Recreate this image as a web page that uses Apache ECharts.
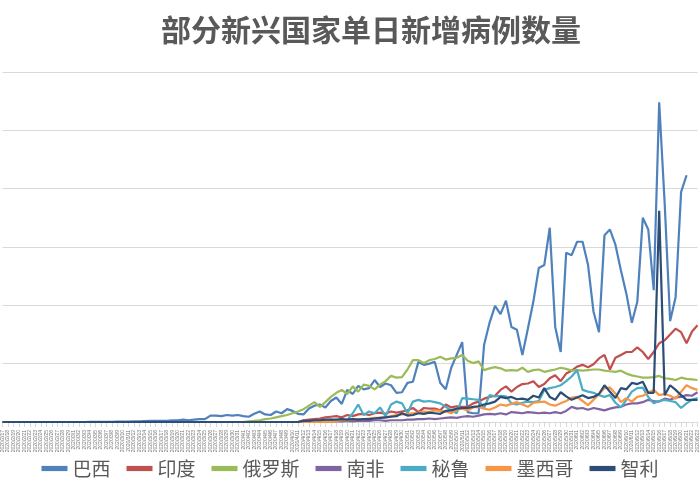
<!DOCTYPE html>
<html><head><meta charset="utf-8">
<script src="https://cdn.jsdelivr.net/npm/echarts@6/dist/echarts.min.js"></script>
<style>html,body{margin:0;padding:0;background:#fff}#c{width:700px;height:500px}</style>
</head><body><div id="c"></div>
<script>
// values in thousands of daily new cases, day 0 = 2020/2/17
const startDate = [2020, 2, 17];
const dayCount = 128;
const z = n => Array(n).fill(0);
const brazil = [].concat(z(13),[0,0,0,0.01,0.01,0.02,0.02,0.03,0.05,0.05,0.06,0.1,0.1,0.15,0.2,0.2,0.2,0.2,0.3,0.3,0.4,0.3,0.4,0.5,0.5],
 [1.1,1.1,1.0,1.2,1.1,1.2,1.0,0.9,1.4,1.8,1.3,1.2,1.8,1.5,2.2,1.9,1.4,1.3,2.3,2.8,3.0,2.5,3.6,4.2,3.1,5.5,4.8,6.2,5.6,5.8,7.2,6.0,6.6],
 [6.3,5.0,5.1,6.7,6.9,10.3,9.8,10.0,10.3,6.7,5.6,9.3,11.5,13.7,1.7,1.5,1.5,13.2,17,19.9,18.5,20.8,16.3,15.8,11.5,16,20.6,26.4,26.9,33.3,16.3,12,29,28.6,30.9,30.9,26.9,18.9,15.4,32,33,30.4,26,22,17,20.6,35,33,22.6,54.8,37.5,17.3,21.4,39.4,42.3]);
const india = [].concat(z(55),[0.3,0.4,0.5,0.6,0.8,0.9,1.0,0.8,1.2,1.0,1.3,1.4,1.2,1.5,1.6,1.4,1.8,1.6],
 [1.8,2.0,2.4,1.7,2.4,2.3,2.3,2.0,3.0,2.5,2.7,2.6,2.6,3.2],
 [3.5,4.0,4.3,4.5,5.5,6.1,5.2,6.0,6.5,6.6,7.0,6.0,6.5,7.5,8.0,7.0,8.3,8.8,9.5,9.8,9.4,9.9,10.9,11.5,9.0,11.0,11.5,12.0,12.0,12.8,12.0,10.8,12.0,13.5,14.0,15.0,16.0,15.4,13.5,15.5,16.6]);
const russia = [].concat(z(45),[0.1,0.2,0.3,0.5,0.6,0.8,1.0,1.2,1.5,1.8,2.2,2.8,3.4,2.6,3.4,4.3,5.0,5.5,4.8,6.1,5.2,6.4,6.2,5.6,6.4,7.0,7.9,7.6],
 [7.7,9.0,10.6,10.6,10.1,10.6,10.8,11.2,10.7,10.9,11.0,11.5,10.5,10.1,10.4,8.9,9.2,9.4,9.2,8.8,8.9,8.8,9.3,8.6,8.9,9.0,8.6,8.8,9.0,9.3,9.1,8.8,8.9,8.8,8.9,9.0,9.0,8.8,8.7,8.6,8.8,8.3,8.0,7.8,7.6,7.6,7.7,7.9,7.5,7.4,7.2,7.6,7.4,7.3,7.2]);
const southAfrica = [].concat(z(60),[0.1,0.1,0.1,0.2,0.1,0.2,0.2,0.2,0.3,0.3,0.2,0.3,0.3],
 [0.3,0.4,0.4,0.5,0.5,0.6,0.5,0.6,0.7,0.8,0.7,0.9,1.0,0.9,1.1,1.3,1.4,1.3,1.5,1.3,1.7,1.6,1.5,1.7,1.6,1.5,1.6,1.5,1.7,1.5,1.9,2.6,2.3,2.4,2.1,2.4,2.2,2.0,2.3,2.5,2.6,3.0,3.2,3.2,3.4,3.8,3.6,3.5,4.0,3.8,4.2,4.3,4.6,4.5,5.1]);
const peru = [].concat(z(56),[0.1,0.2,0.2,0.3,0.4,0.2,0.5,0.3,1.5,3.0,1.2,1.8,1.5,2.5,1.0,3.0,3.5],
 [3.2,1.5,3.5,3.8,3.5,3.6,3.4,3.2,2.6,2.0,1.5,4.1,4.0,3.9,3.8,2.4,4.6,4.4,4.5,4.4,3.2,3.0,3.3,3.5,3.4,3.6,5.5,5.8,6.0,6.3,7.0,7.8,8.9,5.5,5.2,5.0,4.6,4.3,4.6,3.3,2.5,3.8,5.2,5.8,5.9,4.3,3.2,3.6,3.8,3.6,3.4,2.4,3.2,3.8,4.1]);
const mexico = [].concat(z(61),[0.2,0.3,0.3,0.4,0.5,0.5,0.6,0.7,0.7,0.8,1.0,1.2],
 [1.3,1.4,1.5,1.6,1.8,1.7,2.0,1.9,1.8,1.5,2.1,2.3,2.0,2.5,2.6,2.3,2.1,2.5,3.0,2.8,3.1,3.4,3.0,2.6,3.3,3.4,3.5,3.0,2.8,3.2,3.6,4.2,4.3,3.6,2.9,3.8,4.8,5.8,5.9,4.9,3.4,4.1,3.5,4.3,4.5,5.0,5.5,4.6,4.8,4.5,4.0,5.2,6.3,5.8,5.5]);
const chile = [].concat(z(55),[0.2,0.2,0.3,0.3,0.4,0.4,0.4,0.5,0.4,0.5,0.4,0.5,0.5,0.6,0.7,0.8,0.9,1.0],
 [1.5,1.1,1.2,1.5,1.4,1.6,1.5,1.4,1.9,2.0,2.3,2.4,2.4,2.6,2.7,3.0,3.2,3.5,4.3,4.1,4.3,3.9,4.0,3.8,4.5,4.2,5.8,4.3,3.8,5.1,4.4,3.8,4.2,4.6,4.1,4.3,4.8,6.3,5.2,4.1,5.8,5.6,6.7,6.5,6.9,5.0,5.0,36.2,4.6,6.3,5.5,4.6,3.8,3.8,3.8]);
const names = ['巴西','印度','俄罗斯','南非','秘鲁','墨西哥','智利'];
const colors = ['#4F81BD','#C0504D','#9BBB59','#8064A2','#4BACC6','#F79646','#2C4D75'];
const seriesData = [brazil,india,russia,southAfrica,peru,mexico,chile];
const yTicks = [0,10000,20000,30000,40000,50000,60000];

const dates = [];
const d0 = new Date(startDate[0], startDate[1]-1, startDate[2]);
for (let i = 0; i < dayCount; i++) {
  const d = new Date(d0.getTime() + i*86400000);
  dates.push(d.getFullYear()+'/'+(d.getMonth()+1)+'/'+d.getDate());
}
const chart = echarts.init(document.getElementById('c'));
chart.setOption({
  animation:false,
  title:{text:'部分新兴国家单日新增病例数量',left:156,top:10,textStyle:{fontFamily:'Noto Sans CJK SC',fontSize:30,fontWeight:'bold',color:'#595959'}},
  legend:{bottom:17,left:'center',itemWidth:26,itemGap:16,icon:'path://M0,0H10V2H0Z',textStyle:{fontFamily:'Noto Sans CJK SC',fontSize:19,color:'#595959'},data:names},
  grid:{left:0,right:0,top:72,bottom:78},
  xAxis:{type:'category',data:dates,boundaryGap:false,
    axisLine:{lineStyle:{color:'#d9d9d9'}},axisTick:{interval:0,lineStyle:{color:'#d9d9d9'}},
    axisLabel:{interval:0,rotate:90,fontSize:5,color:'#777'}},
  yAxis:{type:'value',min:yTicks[0],max:yTicks[yTicks.length-1],interval:yTicks[1]-yTicks[0],
    axisLabel:{show:false},axisLine:{show:false},axisTick:{show:false},
    splitLine:{lineStyle:{color:'#d9d9d9'}}},
  series:seriesData.map((s,k)=>({name:names[k],type:'line',data:s.map(v=>Math.round(v*1000)),
    showSymbol:false,color:colors[k],lineStyle:{width:2.2,color:colors[k]}}))
});
</script></body></html>
